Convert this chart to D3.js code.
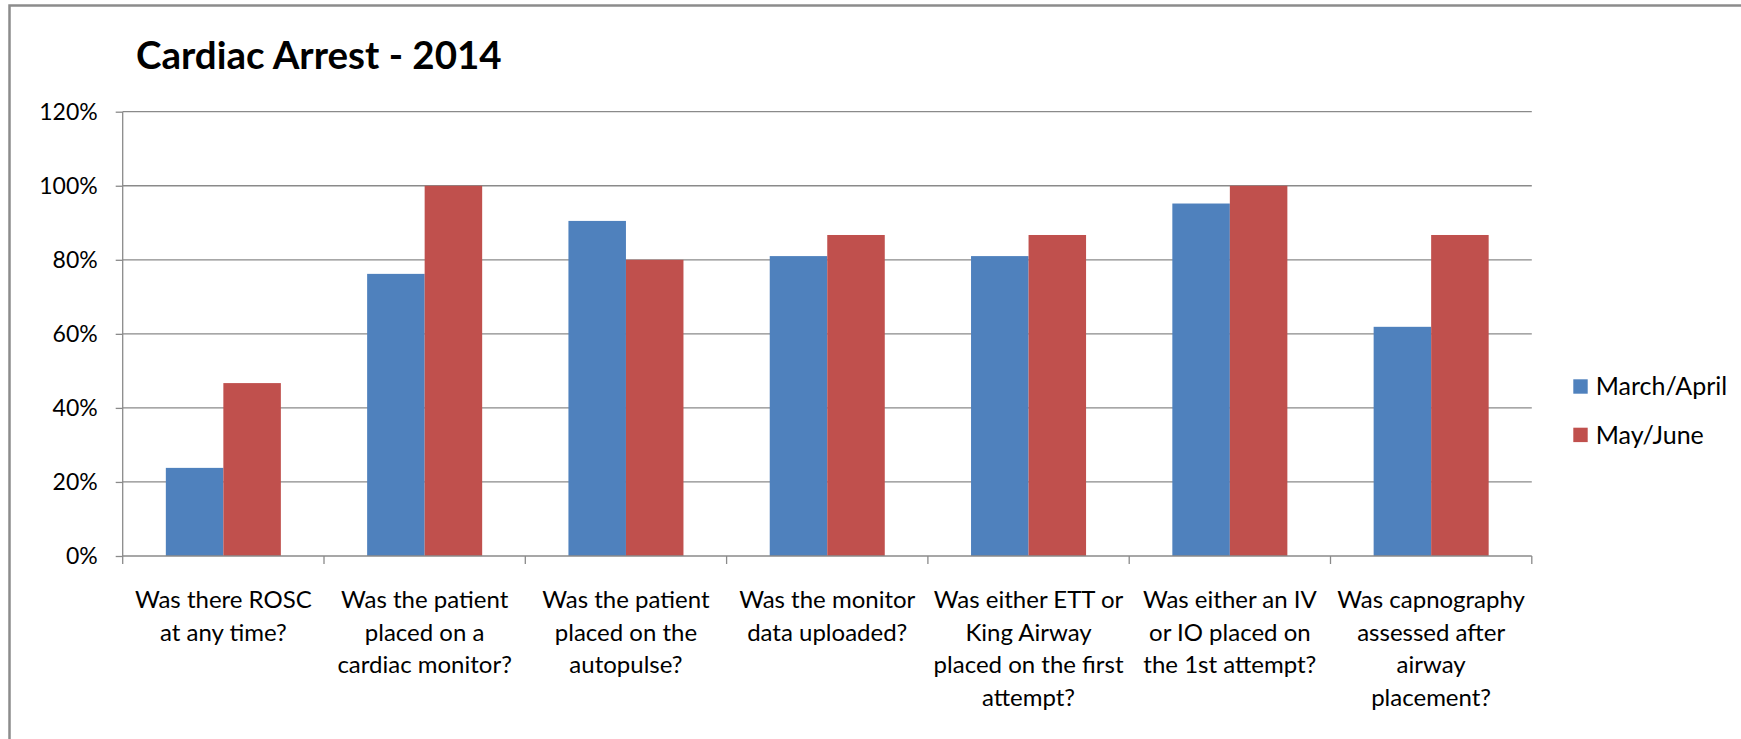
<!DOCTYPE html>
<html>
<head>
<meta charset="utf-8">
<script src="https://cdn.jsdelivr.net/npm/d3@7"></script>
<style>
  html, body { margin: 0; padding: 0; background: #fff; }
  svg { display: block; }
</style>
</head>
<body>
<svg id="chart" width="1741" height="739"></svg>
<script>
const title = "Cardiac Arrest - 2014";
const categories = [
  "Was there ROSC\nat any time?",
  "Was the patient\nplaced on a\ncardiac monitor?",
  "Was the patient\nplaced on the\nautopulse?",
  "Was the monitor\ndata uploaded?",
  "Was either ETT or\nKing Airway\nplaced on the first\nattempt?",
  "Was either an IV\nor IO placed on\nthe 1st attempt?",
  "Was capnography\nassessed after\nairway\nplacement?"
];
const seriesNames = ["March/April", "May/June"];
const marchApril = [0.238, 0.762, 0.905, 0.810, 0.810, 0.952, 0.619];
const mayJune = [0.467, 1.000, 0.800, 0.867, 0.867, 1.000, 0.867];
const yTicks = [0, 0.2, 0.4, 0.6, 0.8, 1.0, 1.2];
const colors = ["#4F81BD", "#C0504D"];

const font = "Lato, 'Open Sans', sans-serif";
const svg = d3.select("#chart");

// outer border (only top and left edges fall inside the picture)
svg.append("rect").attr("x", 9.5).attr("y", 5.5).attr("width", 1800).attr("height", 800)
  .attr("fill", "#fff").attr("stroke", "#8c8c8c").attr("stroke-width", 2.5);

const plot = { left: 122.7, right: 1531.8, top: 111.7, bottom: 556 };

const x = d3.scaleBand().domain(categories).range([plot.left, plot.right]).padding(0);
const xs = d3.scaleBand().domain(seriesNames).range([0, x.bandwidth()]).paddingInner(0).paddingOuter(0.75);
const y = d3.scaleLinear().domain([0, 1.2]).range([plot.bottom, plot.top]);

// gridlines
svg.append("g").selectAll("line").data(yTicks.filter(d => d > 0)).join("line")
  .attr("x1", plot.left).attr("x2", plot.right)
  .attr("y1", d => y(d)).attr("y2", d => y(d))
  .attr("stroke", "#8a8a8a").attr("stroke-width", 1.3);

// bars
const data = categories.map((c, i) => ({ c, vals: [marchApril[i], mayJune[i]] }));
const groups = svg.append("g").selectAll("g").data(data).join("g")
  .attr("transform", d => `translate(${x(d.c)},0)`);
groups.selectAll("rect").data(d => d.vals.map((v, j) => ({ v, s: seriesNames[j], j }))).join("rect")
  .attr("x", d => xs(d.s)).attr("width", xs.bandwidth())
  .attr("y", d => y(d.v)).attr("height", d => y(0) - y(d.v))
  .attr("fill", d => colors[d.j]);

// y axis
const yAxis = d3.axisLeft(y).tickValues(yTicks).tickFormat(d3.format(".0%")).tickSize(7).tickPadding(18);
const gy = svg.append("g").attr("transform", `translate(${plot.left},0)`).call(yAxis);
gy.select(".domain").attr("stroke", "#8a8a8a").attr("stroke-width", 1.3).attr("d", `M0,${plot.top}V${plot.bottom}`);
gy.selectAll(".tick line").attr("stroke", "#8a8a8a").attr("stroke-width", 1.3);
gy.selectAll(".tick text").attr("font-family", font).attr("font-size", 23).attr("fill", "#000");

// x axis
const gx = svg.append("g").attr("transform", `translate(0,${plot.bottom})`);
gx.append("line").attr("x1", plot.left).attr("x2", plot.right).attr("y1", 0).attr("y2", 0)
  .attr("stroke", "#8a8a8a").attr("stroke-width", 1.3);
const bounds = categories.map(c => x(c)).concat([plot.right]);
gx.selectAll("line.tk").data(bounds).join("line").attr("class", "tk")
  .attr("x1", d => d).attr("x2", d => d).attr("y1", 0).attr("y2", 8)
  .attr("stroke", "#8a8a8a").attr("stroke-width", 1.3);
const labels = gx.selectAll("text.cat").data(categories).join("text").attr("class", "cat")
  .attr("font-family", font).attr("font-size", 24).attr("text-anchor", "middle").attr("fill", "#000");
labels.each(function(c) {
  const lines = c.split("\n");
  const t = d3.select(this);
  lines.forEach((ln, k) => {
    t.append("tspan").attr("x", x(c) + x.bandwidth() / 2).attr("y", 52 + k * 32.5).text(ln);
  });
});

// title
svg.append("text").attr("x", 136).attr("y", 69).attr("font-family", font)
  .attr("font-weight", "bold").attr("font-size", 38.5).attr("fill", "#000").text(title);

// legend
const lg = svg.append("g").selectAll("g").data(seriesNames).join("g")
  .attr("transform", (d, i) => `translate(1573.3,${379.3 + i * 48.4})`);
lg.append("rect").attr("width", 14.4).attr("height", 14.4).attr("fill", (d, i) => colors[i]);
lg.append("text").attr("x", 22.4).attr("y", 7.2).attr("dy", "0.35em")
  .attr("font-family", font).attr("font-size", 25).attr("fill", "#000").text(d => d);
</script>
</body>
</html>
